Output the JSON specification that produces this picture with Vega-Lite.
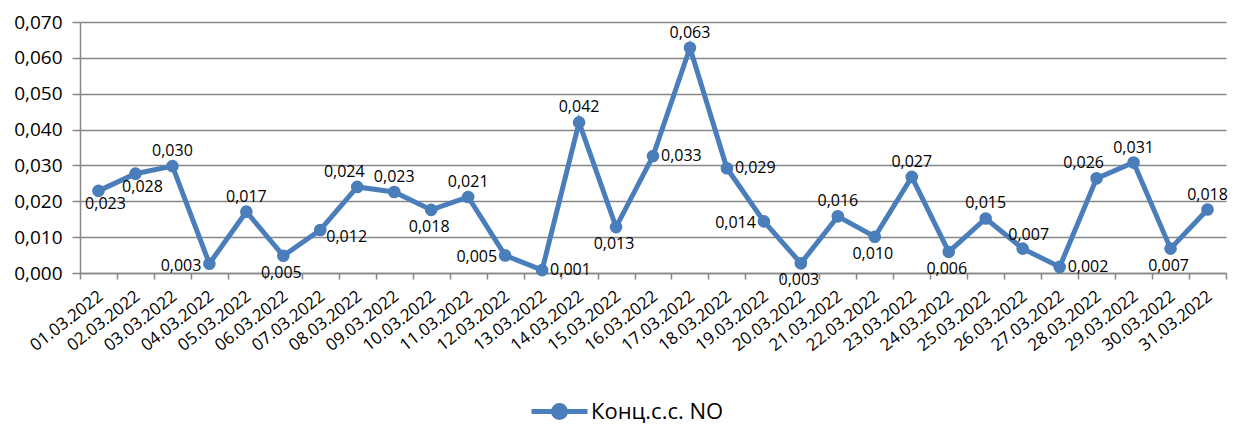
{
  "$schema": "https://vega.github.io/schema/vega-lite/v6.json",
  "width": 1146,
  "height": 251,
  "autosize": {"type": "none"},
  "padding": {"left": 80, "top": 22, "right": 8, "bottom": 152},
  "config": {
    "locale": {"number": {"decimal": ",", "thousands": " ", "grouping": [3], "currency": ["", ""]}},
    "view": {"stroke": null},
    "font": "Open Sans",
    "text": {"font": "Open Sans", "fontSize": 16, "color": "#000000"}
  },
  "data": {
    "values": [
      {"date": "01.03.2022", "value": 0.0229},
      {"date": "02.03.2022", "value": 0.0277},
      {"date": "03.03.2022", "value": 0.0298},
      {"date": "04.03.2022", "value": 0.0026},
      {"date": "05.03.2022", "value": 0.0171},
      {"date": "06.03.2022", "value": 0.0048},
      {"date": "07.03.2022", "value": 0.0120},
      {"date": "08.03.2022", "value": 0.0240},
      {"date": "09.03.2022", "value": 0.0226},
      {"date": "10.03.2022", "value": 0.0176},
      {"date": "11.03.2022", "value": 0.0212},
      {"date": "12.03.2022", "value": 0.0049},
      {"date": "13.03.2022", "value": 0.0008},
      {"date": "14.03.2022", "value": 0.0420},
      {"date": "15.03.2022", "value": 0.0128},
      {"date": "16.03.2022", "value": 0.0326},
      {"date": "17.03.2022", "value": 0.0628},
      {"date": "18.03.2022", "value": 0.0292},
      {"date": "19.03.2022", "value": 0.0144},
      {"date": "20.03.2022", "value": 0.0027},
      {"date": "21.03.2022", "value": 0.0158},
      {"date": "22.03.2022", "value": 0.0101},
      {"date": "23.03.2022", "value": 0.0268},
      {"date": "24.03.2022", "value": 0.0059},
      {"date": "25.03.2022", "value": 0.0152},
      {"date": "26.03.2022", "value": 0.0068},
      {"date": "27.03.2022", "value": 0.0017},
      {"date": "28.03.2022", "value": 0.0264},
      {"date": "29.03.2022", "value": 0.0308},
      {"date": "30.03.2022", "value": 0.0068},
      {"date": "31.03.2022", "value": 0.0177}
    ]
  },
  "encoding": {
    "x": {
      "field": "date",
      "type": "nominal",
      "sort": null,
      "bandPosition": 0.5,
      "scale": {"type": "band", "paddingInner": 0, "paddingOuter": 0},
      "axis": {
        "title": null,
        "grid": false,
        "tickBand": "extent",
        "domainColor": "#878787",
        "domainWidth": 1.5,
        "tickColor": "#878787",
        "tickWidth": 1.5,
        "tickSize": 6,
        "labelAngle": -38,
        "labelAlign": "right",
        "labelBaseline": "middle",
        "labelFont": "Open Sans",
        "labelFontSize": 17,
        "labelColor": "#000000",
        "labelPadding": 15,
        "labelOffset": 2
      }
    },
    "y": {
      "field": "value",
      "type": "quantitative",
      "scale": {"domain": [0, 0.07], "nice": false},
      "axis": {
        "title": null,
        "values": [0, 0.01, 0.02, 0.03, 0.04, 0.05, 0.06, 0.07],
        "format": ".3f",
        "grid": true,
        "gridColor": "#878787",
        "gridWidth": 1.5,
        "domainColor": "#878787",
        "domainWidth": 1.5,
        "tickColor": "#878787",
        "tickWidth": 1.5,
        "tickSize": 8,
        "labelFont": "Open Sans",
        "labelFontSize": 19,
        "labelColor": "#000000",
        "labelPadding": 10
      }
    }
  },
  "layer": [
    {
      "mark": {"type": "line", "strokeWidth": 5, "point": {"filled": true, "size": 160}},
      "encoding": {
        "color": {
          "datum": "Конц.с.с. NO",
          "scale": {"range": ["#4A7EBB"]},
          "legend": {
            "orient": "none",
            "legendX": 467,
            "legendY": 377,
            "title": null,
            "symbolType": "M-2.8,0L2.8,0M0.6,0A0.6,0.6,0,1,1,-0.6,0A0.6,0.6,0,1,1,0.6,0",
            "symbolSize": 400,
            "symbolStrokeWidth": 5,
            "symbolFillColor": "#4A7EBB",
            "symbolStrokeColor": "#4A7EBB",
            "labelOffset": 19,
            "labelFont": "Open Sans",
            "labelFontSize": 22,
            "labelColor": "#000000"
          }
        }
      }
    },
    {
      "transform": [{"filter": {"field": "date", "oneOf": ["03.03.2022", "05.03.2022", "09.03.2022", "11.03.2022", "14.03.2022", "17.03.2022", "21.03.2022", "23.03.2022", "25.03.2022", "29.03.2022", "31.03.2022"]}}],
      "mark": {"type": "text", "align": "center", "baseline": "middle", "dy": -15},
      "encoding": {"text": {"field": "value", "type": "quantitative", "format": ".3f"}}
    },
    {
      "transform": [{"filter": {"field": "date", "oneOf": ["08.03.2022", "28.03.2022"]}}],
      "mark": {"type": "text", "align": "center", "baseline": "middle", "dx": -13, "dy": -15},
      "encoding": {"text": {"field": "value", "type": "quantitative", "format": ".3f"}}
    },
    {
      "transform": [{"filter": {"field": "date", "oneOf": ["26.03.2022"]}}],
      "mark": {"type": "text", "align": "center", "baseline": "middle", "dx": 6, "dy": -14},
      "encoding": {"text": {"field": "value", "type": "quantitative", "format": ".3f"}}
    },
    {
      "transform": [{"filter": {"field": "date", "oneOf": ["06.03.2022", "10.03.2022", "15.03.2022", "20.03.2022", "22.03.2022", "24.03.2022", "30.03.2022"]}}],
      "mark": {"type": "text", "align": "center", "baseline": "middle", "dx": -2, "dy": 17},
      "encoding": {"text": {"field": "value", "type": "quantitative", "format": ".3f"}}
    },
    {
      "transform": [{"filter": {"field": "date", "oneOf": ["01.03.2022", "02.03.2022"]}}],
      "mark": {"type": "text", "align": "center", "baseline": "middle", "dx": 7, "dy": 13},
      "encoding": {"text": {"field": "value", "type": "quantitative", "format": ".3f"}}
    },
    {
      "transform": [{"filter": {"field": "date", "oneOf": ["04.03.2022", "12.03.2022", "19.03.2022"]}}],
      "mark": {"type": "text", "align": "right", "baseline": "middle", "dx": -8, "dy": 2},
      "encoding": {"text": {"field": "value", "type": "quantitative", "format": ".3f"}}
    },
    {
      "transform": [{"filter": {"field": "date", "oneOf": ["13.03.2022", "16.03.2022", "18.03.2022", "27.03.2022"]}}],
      "mark": {"type": "text", "align": "left", "baseline": "middle", "dx": 8, "dy": 0},
      "encoding": {"text": {"field": "value", "type": "quantitative", "format": ".3f"}}
    },
    {
      "transform": [{"filter": {"field": "date", "oneOf": ["07.03.2022"]}}],
      "mark": {"type": "text", "align": "left", "baseline": "middle", "dx": 6, "dy": 7},
      "encoding": {"text": {"field": "value", "type": "quantitative", "format": ".3f"}}
    }
  ]
}
